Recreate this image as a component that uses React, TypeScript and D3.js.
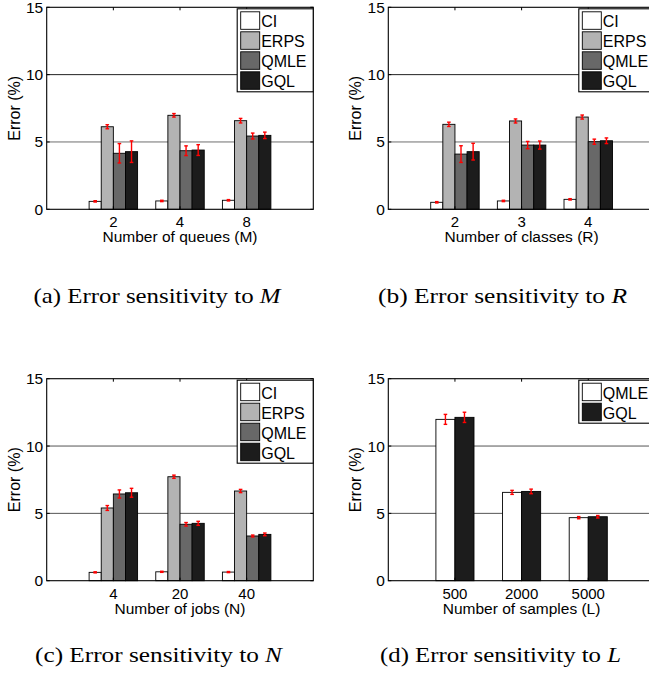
import React from "react";
import { scaleLinear, scaleBand } from "d3";

// series names
const seriesFour = ["CI", "ERPS", "QMLE", "GQL"];
const seriesTwo = ["QMLE", "GQL"];

// x tick labels
const queueLabels = ["2", "4", "8"];
const classLabels = ["2", "3", "4"];
const jobLabels = ["4", "20", "40"];
const sampleLabels = ["500", "2000", "5000"];

// (a) error vs number of queues
const queuesCI = [0.59, 0.62, 0.67];
const queuesERPS = [6.13, 6.98, 6.58];
const queuesQMLE = [4.16, 4.35, 5.44];
const queuesGQL = [4.28, 4.4, 5.49];
const queuesErr = [
  [0.05, 0.05, 0.05],
  [0.15, 0.13, 0.17],
  [0.72, 0.36, 0.22],
  [0.8, 0.4, 0.24],
];

// (b) error vs number of classes
const classesCI = [0.52, 0.62, 0.74];
const classesERPS = [6.31, 6.56, 6.85];
const classesQMLE = [4.1, 4.77, 5.02];
const classesGQL = [4.28, 4.77, 5.09];
const classesErr = [
  [0.05, 0.05, 0.05],
  [0.16, 0.15, 0.15],
  [0.62, 0.27, 0.19],
  [0.62, 0.3, 0.21],
];

// (c) error vs number of jobs
const jobsCI = [0.62, 0.66, 0.64];
const jobsERPS = [5.4, 7.72, 6.66];
const jobsQMLE = [6.44, 4.19, 3.32];
const jobsGQL = [6.53, 4.26, 3.44];
const jobsErr = [
  [0.04, 0.04, 0.04],
  [0.18, 0.12, 0.12],
  [0.3, 0.13, 0.07],
  [0.33, 0.15, 0.1],
];

// (d) error vs number of samples
const samplesQMLE = [11.98, 6.56, 4.68];
const samplesGQL = [12.13, 6.63, 4.75];
const samplesErr = [
  [0.37, 0.15, 0.08],
  [0.38, 0.17, 0.09],
];

const yTicks = [0, 5, 10, 15];

const FOUR_FILLS = ["#ffffff", "#b3b3b3", "#686868", "#1c1c1c"];
const TWO_FILLS = ["#ffffff", "#1c1c1c"];
const SANS = "'Liberation Sans', Arial, Helvetica, sans-serif";
const SERIF = "'Liberation Serif', 'Times New Roman', serif";

const W = 266.6;
const H = 202;

function Panel({ left, top, labels, series, values, errors, fills, xLabel, gridColors }) {
  const x = scaleLinear().domain([0, 4]).range([left, left + W]);
  const y = scaleLinear().domain([0, 15]).range([top + H, top]);
  const n = series.length;
  const groupW = (x(1) - x(0)) * Math.min(0.8, n / (n + 1.5));
  const inner = scaleBand().domain(series).range([-groupW / 2, groupW / 2]).padding(0);
  const bottom = y(0);

  const legendX = left + 190.5;
  const legendY = top + 1.5;

  return (
    <g>
      {/* grid lines */}
      {[5, 10].map((v, i) => (
        <line key={v} x1={left} x2={left + W} y1={y(v)} y2={y(v)} stroke={gridColors[i]} strokeWidth={1} />
      ))}

      {/* bars */}
      {series.map((s, si) =>
        labels.map((lab, ci) => {
          const bx = x(ci + 1) + inner(s);
          const v = values[si][ci];
          return (
            <rect
              key={s + lab}
              x={bx}
              y={y(v)}
              width={inner.bandwidth()}
              height={bottom - y(v)}
              fill={fills[si]}
              stroke="#000"
              strokeWidth={0.9}
            />
          );
        })
      )}

      {/* error bars */}
      {series.map((s, si) =>
        labels.map((lab, ci) => {
          const cx = x(ci + 1) + inner(s) + inner.bandwidth() / 2;
          const v = values[si][ci];
          const e = errors[si][ci];
          const y1 = y(v + e);
          const y2 = y(v - e);
          return (
            <g key={"e" + s + lab} stroke="#ff0000" strokeWidth={1.4}>
              <line x1={cx} x2={cx} y1={y1} y2={y2} />
              <line x1={cx - 1.8} x2={cx + 1.8} y1={y1} y2={y1} />
              <line x1={cx - 1.8} x2={cx + 1.8} y1={y2} y2={y2} />
            </g>
          );
        })
      )}

      {/* axis box */}
      <rect x={left} y={top} width={W} height={H} fill="none" stroke="#000" strokeWidth={1.1} />

      {/* ticks */}
      {labels.map((lab, ci) => (
        <g key={"t" + lab} stroke="#000" strokeWidth={1}>
          <line x1={x(ci + 1)} x2={x(ci + 1)} y1={bottom} y2={bottom - 3} />
          <line x1={x(ci + 1)} x2={x(ci + 1)} y1={top} y2={top + 3} />
        </g>
      ))}
      {yTicks.map((t) => (
        <g key={"yt" + t} stroke="#000" strokeWidth={1}>
          <line x1={left} x2={left + 3} y1={y(t)} y2={y(t)} />
          <line x1={left + W} x2={left + W - 3} y1={y(t)} y2={y(t)} />
        </g>
      ))}

      {/* tick labels */}
      {labels.map((lab, ci) => (
        <text key={"xl" + lab} x={x(ci + 1)} y={bottom + 18} textAnchor="middle" fontFamily={SANS} fontSize={15} fill="#000">
          {lab}
        </text>
      ))}
      {yTicks.map((t) => (
        <text key={"yl" + t} x={left - 3.5} y={y(t) + 5.5} textAnchor="end" fontFamily={SANS} fontSize={15.5} fill="#000">
          {t}
        </text>
      ))}

      {/* axis labels */}
      <text x={left + W / 2} y={bottom + 33} textAnchor="middle" fontFamily={SANS} fontSize={15.5} fill="#000">
        {xLabel}
      </text>
      <text
        transform={`translate(${left - 27},${top + H / 2}) rotate(-90)`}
        textAnchor="middle"
        fontFamily={SANS}
        fontSize={16}
        fill="#000"
      >
        Error (%)
      </text>

      {/* legend */}
      <rect x={legendX} y={legendY} width={76} height={n * 20 + 3} fill="#fff" stroke="#000" strokeWidth={1.1} />
      {series.map((s, si) => (
        <g key={"lg" + s}>
          <rect x={legendX + 3.5} y={legendY + 3 + si * 20} width={19} height={17.5} fill={fills[si]} stroke="#000" strokeWidth={0.9} />
          <text x={legendX + 24} y={legendY + 3 + si * 20 + 15.5} fontFamily={SANS} fontSize={16} fill="#000">
            {s}
          </text>
        </g>
      ))}
    </g>
  );
}

function Caption({ x, y, letter, variable, width }) {
  return (
    <text x={x} y={y} fontFamily={SERIF} fontSize={21} fill="#000" textLength={width} lengthAdjust="spacingAndGlyphs">
      {`(${letter}) Error sensitivity to `}
      <tspan fontStyle="italic">{variable}</tspan>
    </text>
  );
}

export default function App() {
  return (
    <svg
      width={649}
      height={687}
      style={{ position: "absolute", left: 0, top: 0, background: "#fff" }}
    >
      <rect width={649} height={687} fill="#fff" />
      <Panel
        left={46.7}
        top={7.3}
        labels={queueLabels}
        series={seriesFour}
        values={[queuesCI, queuesERPS, queuesQMLE, queuesGQL]}
        errors={queuesErr}
        fills={FOUR_FILLS}
        xLabel="Number of queues (M)"
        gridColors={["#6e6e6e", "#222"]}
      />
      <Panel
        left={388.3}
        top={7.3}
        labels={classLabels}
        series={seriesFour}
        values={[classesCI, classesERPS, classesQMLE, classesGQL]}
        errors={classesErr}
        fills={FOUR_FILLS}
        xLabel="Number of classes (R)"
        gridColors={["#6e6e6e", "#222"]}
      />
      <Panel
        left={46.7}
        top={378.7}
        labels={jobLabels}
        series={seriesFour}
        values={[jobsCI, jobsERPS, jobsQMLE, jobsGQL]}
        errors={jobsErr}
        fills={FOUR_FILLS}
        xLabel="Number of jobs (N)"
        gridColors={["#555", "#555"]}
      />
      <Panel
        left={388.3}
        top={378.7}
        labels={sampleLabels}
        series={seriesTwo}
        values={[samplesQMLE, samplesGQL]}
        errors={samplesErr}
        fills={TWO_FILLS}
        xLabel="Number of samples (L)"
        gridColors={["#555", "#555"]}
      />
      <Caption x={33.5} y={303} letter="a" variable="M" width={247} />
      <Caption x={378} y={303} letter="b" variable="R" width={249} />
      <Caption x={35} y={662} letter="c" variable="N" width={247} />
      <Caption x={380} y={662} letter="d" variable="L" width={241} />
    </svg>
  );
}
